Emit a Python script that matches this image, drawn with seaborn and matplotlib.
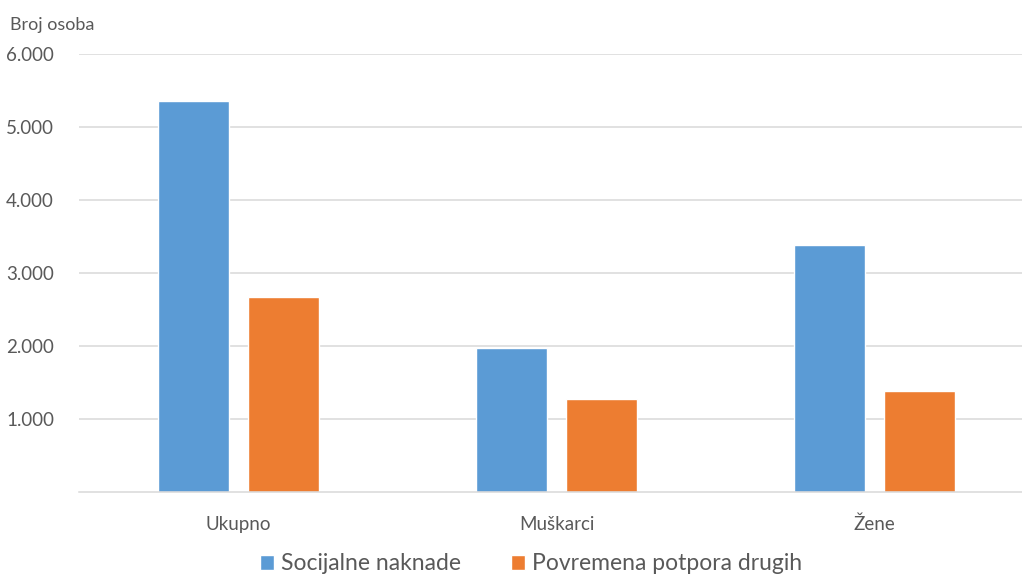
import matplotlib
matplotlib.use("Agg")
import matplotlib.pyplot as plt
import seaborn as sb
import pandas as pd
from matplotlib.ticker import FuncFormatter

# data
categories = ['Ukupno', 'Muškarci', 'Žene']
series_names = ['Socijalne naknade', 'Povremena potpora drugih']
socijalne = [5350, 1970, 3380]
povremena = [2670, 1270, 1390]
y_ticks = [1000, 2000, 3000, 4000, 5000, 6000]

colors = ['#5B9BD5', '#ED7D31']
text_color = '#595959'

df = pd.DataFrame({
    'kategorija': categories * 2,
    'serija': [series_names[0]] * 3 + [series_names[1]] * 3,
    'broj': socijalne + povremena,
})

sb.set_style('white')
plt.rcParams['font.family'] = ['Lato', 'DejaVu Sans']

fig = plt.figure(figsize=(10.22, 5.74), dpi=100)
ax = fig.add_axes([79 / 1022, 82 / 574, 955 / 1022, 438 / 574])

bars = sb.barplot(data=df, x='kategorija', y='broj', hue='serija', palette=colors,
                  width=0.566, gap=0.212, saturation=1, ax=ax, legend=True)

ax.set_xlim(-0.5, 2.5)
ax.set_ylim(0, 6000)
ax.set_yticks(y_ticks)
ax.yaxis.set_major_formatter(FuncFormatter(lambda v, p: f'{int(v):,}'.replace(',', '.')))
ax.grid(axis='y', color='#D9D9D9', linewidth=1.1)
ax.set_axisbelow(True)
for s in ['left', 'right', 'top']:
    ax.spines[s].set_visible(False)
ax.spines['bottom'].set_color('#D9D9D9')
ax.spines['bottom'].set_linewidth(1.1)
ax.tick_params(length=0, labelsize=13.5, labelcolor=text_color)
ax.tick_params(axis='x', pad=17)
ax.tick_params(axis='y', pad=18)
ax.set_xlabel('')
ax.set_ylabel('')

fig.text(10 / 1022, 1 - 25 / 574, 'Broj osoba', fontsize=13, color=text_color, va='center')

handles, labels = ax.get_legend_handles_labels()
ax.get_legend().remove()
fig.legend(handles, labels, loc='center', bbox_to_anchor=(531 / 1022, 1 - 564 / 574), ncol=2,
           frameon=False, fontsize=16.5, labelcolor=text_color, handlelength=0.6, handleheight=0.6,
           handletextpad=0.3, columnspacing=2.2)

plt.savefig('out.png', dpi=100)
